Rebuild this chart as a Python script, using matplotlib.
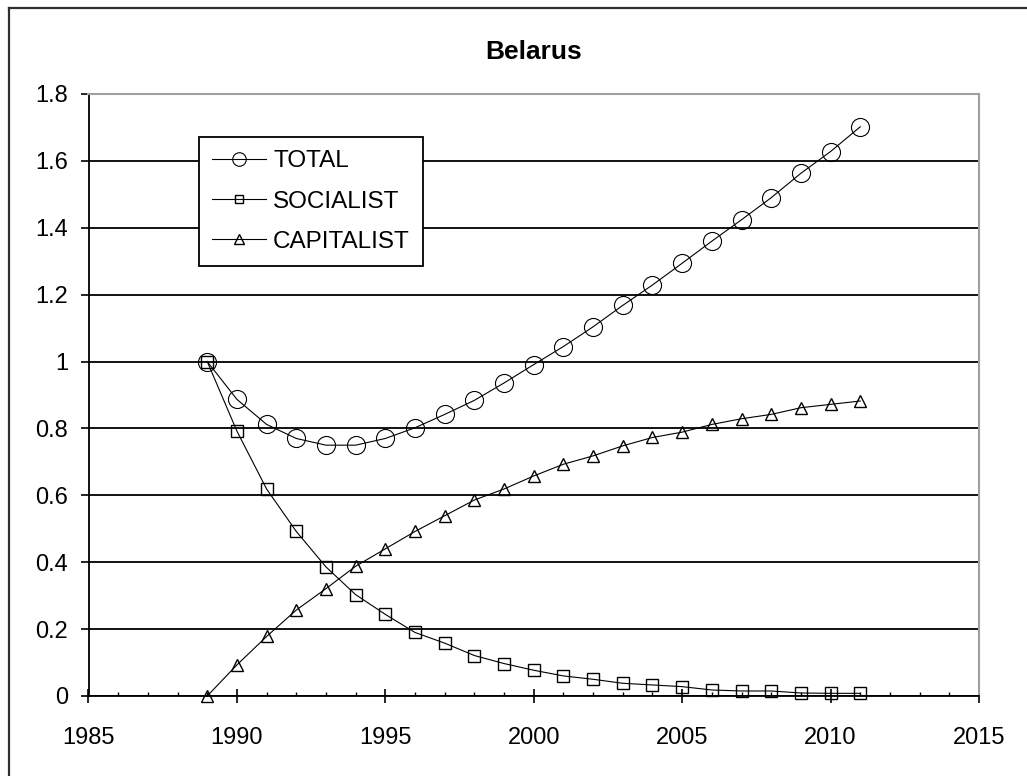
import matplotlib
matplotlib.use("Agg")
import matplotlib.pyplot as plt
from matplotlib.lines import Line2D
from matplotlib.ticker import MultipleLocator

years = list(range(1989, 2012))
total = [1.00, 0.887, 0.812, 0.770, 0.750, 0.750, 0.770, 0.802, 0.842, 0.884,
         0.936, 0.991, 1.045, 1.104, 1.168, 1.229, 1.294, 1.360, 1.424, 1.490,
         1.563, 1.628, 1.702]
socialist = [1.00, 0.792, 0.619, 0.492, 0.386, 0.303, 0.244, 0.190, 0.158, 0.121,
             0.097, 0.077, 0.060, 0.050, 0.038, 0.033, 0.028, 0.018, 0.015, 0.015,
             0.009, 0.008, 0.008]
capitalist = [0.0, 0.093, 0.178, 0.257, 0.321, 0.388, 0.440, 0.492, 0.539, 0.586,
              0.619, 0.658, 0.693, 0.718, 0.748, 0.773, 0.789, 0.812, 0.829, 0.842,
              0.862, 0.872, 0.882]
series_names = ["TOTAL", "SOCIALIST", "CAPITALIST"]
title = "Belarus"
ytick_labels = ["0", "0.2", "0.4", "0.6", "0.8", "1", "1.2", "1.4", "1.6", "1.8"]

plt.rcParams['font.family'] = ['Liberation Sans', 'DejaVu Sans']

W, H = 1027, 776
fig = plt.figure(figsize=(W / 100, H / 100), dpi=100)
fig.patch.set_facecolor('white')

# outer chart frame (left and top visible)
fig.add_artist(Line2D([9 / W, 9 / W], [0, 1 - 8 / H], transform=fig.transFigure,
                      color='#303030', lw=1.6))
fig.add_artist(Line2D([9 / W, 1], [1 - 8 / H, 1 - 8 / H], transform=fig.transFigure,
                      color='#303030', lw=1.6))

left, right, top, bottom = 88.5, 979, 94, 696
ax = fig.add_axes([left / W, 1 - bottom / H, (right - left) / W, (bottom - top) / H])

ax.set_xlim(1985, 2015)
ax.set_ylim(0, 1.8)

ax.xaxis.set_major_locator(MultipleLocator(5))
ax.xaxis.set_minor_locator(MultipleLocator(1))
ax.set_yticks([i * 0.2 for i in range(len(ytick_labels))])
ax.set_yticklabels(ytick_labels)
ax.yaxis.grid(True, color='black', lw=1.3)
ax.set_axisbelow(True)

for sp in ['top', 'right']:
    ax.spines[sp].set_color('#a0a0a0')
    ax.spines[sp].set_linewidth(1.5)
for sp in ['left', 'bottom']:
    ax.spines[sp].set_color('black')
    ax.spines[sp].set_linewidth(1.3)

ax.tick_params(axis='y', which='major', direction='out', length=5.5, width=1.2,
               labelsize=17, pad=9, colors='black')
ax.tick_params(axis='x', which='major', direction='inout', length=10, width=1.2,
               labelsize=17, pad=17, colors='black')
ax.tick_params(axis='x', which='minor', direction='in', length=3, width=1.0)

lw = 0.8
ax.plot(years, total, color='black', lw=lw, marker='o', ms=13,
        mfc='none', mec='black', mew=0.8, label=series_names[0], clip_on=False)
ax.plot(years, socialist, color='black', lw=lw, marker='s', ms=8,
        mfc='none', mec='black', mew=1.0, label=series_names[1], clip_on=False)
ax.plot(years, capitalist, color='black', lw=lw, marker='^', ms=9,
        mfc='none', mec='black', mew=1.0, label=series_names[2], clip_on=False)

leg = ax.legend(loc='upper left', bbox_to_anchor=((199 - left) / (right - left),
                                                  (bottom - 137) / (bottom - top)),
                borderaxespad=0, fontsize=17.5, frameon=True, fancybox=False,
                edgecolor='black', handlelength=2.2, handletextpad=0.3,
                labelspacing=0.75, borderpad=0.55, markerscale=0.75)
leg.get_frame().set_linewidth(1.3)
leg.get_frame().set_facecolor('white')
leg.get_frame().set_alpha(1)

fig.text((left + right) / 2 / W, 1 - 52 / H, title, ha='center', va='center',
         fontsize=19, fontweight='bold')

fig.savefig("out.png", dpi=100, facecolor='white')
